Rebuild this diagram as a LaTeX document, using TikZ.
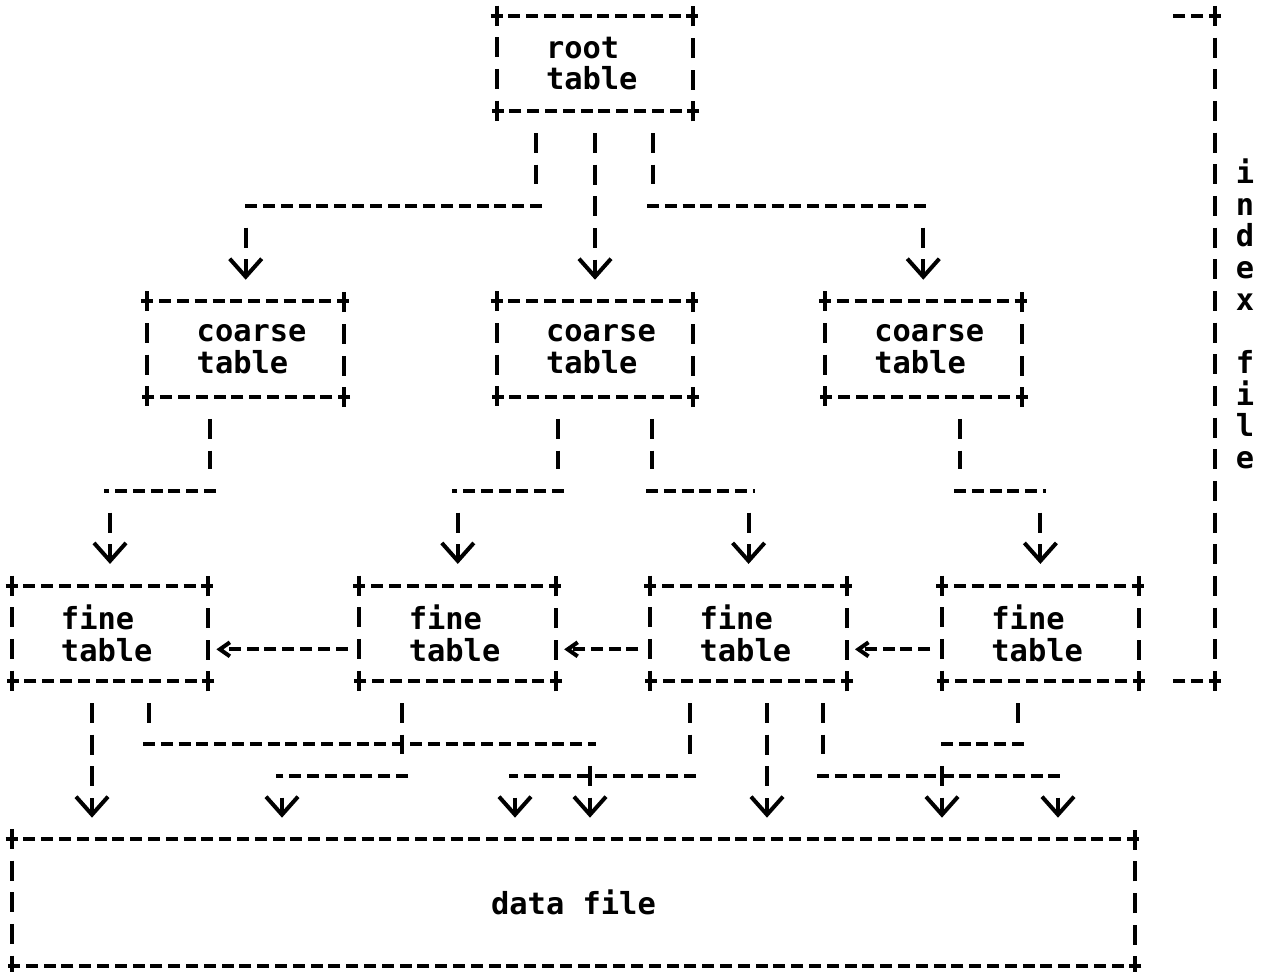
\documentclass[tikz,border=0pt]{standalone}
\usepackage{fontspec}
\setmonofont{DejaVu Sans Mono}
\usetikzlibrary{arrows.meta,positioning}
\hfuzz=20pt
\tikzset{
  txt/.style={font=\ttfamily\bfseries\fontsize{15.2}{15.83}\selectfont},
  tbl/.style={txt,minimum width=98pt,minimum height=47.5pt,inner xsep=24.5pt,
    inner ysep=0pt,text width=49pt,align=left},
  datafile/.style={txt,minimum width=561.5pt,minimum height=63.33pt,inner sep=0pt},
  hl/.style={line width=2pt,dash pattern=on 6pt off 2.9pt,
    shorten <=-3pt,shorten >=-3pt},
  vside/.style={line width=2pt,dash pattern=on 10pt off 5.83pt,
    shorten <=-5pt,shorten >=-5pt},
  vl/.style={line width=2pt,dash pattern=on 10pt off 5.83pt,
    shorten <=10.83pt,shorten >=10.83pt},
  ptr/.style={vl,-{Straight Barb[length=9pt,width=16pt]}},
  sib/.style={line width=2pt,dash pattern=on 6pt off 2.9pt,
    shorten <=5.9pt,shorten >=4pt,-{Straight Barb[length=5pt,width=7pt]}}
}

\begin{document}
\begin{tikzpicture}[x=0.5pt,y=-0.5pt]
  \useasboundingbox[fill=white] (0,0) rectangle (1264,972);

  % tables
  \node [tbl] (root) at (595,63.5) {root\\table};
  \node [tbl,below=95pt of root] (c2) {coarse\\table};
  \node [tbl,left=76.25pt of c2] (c1) {coarse\\table};
  \node [tbl,right=65.75pt of c2] (c3) {coarse\\table};
  \node [tbl] (f1) at (110,633.5) {fine\\table};
  \node [tbl,right=75.5pt of f1] (f2) {fine\\table};
  \node [tbl,right=47pt of f2] (f3) {fine\\table};
  \node [tbl,right=47.5pt of f3] (f4) {fine\\table};
  \node [datafile] (data) at (573.5,902.67) {data file};
  \node [txt,align=center,inner sep=0pt] (idx) at (1245,314)
    {i\\n\\d\\e\\x\\~\\f\\i\\l\\e};

  \foreach \b in {root,c1,c2,c3,f1,f2,f3,f4,data}
    \path (\b.north west) edge[hl] (\b.north east) edge[vside] (\b.south west)
          (\b.south east) edge[hl] (\b.south west) edge[vside] (\b.north east);

  % index file bracket
  \coordinate (ixT) at (1215,16);
  \coordinate (ixB) at (1215,681);
  \coordinate (ixTL) at (1177,16);
  \coordinate (ixBL) at (1177,681);
  \path (ixT) edge[vside] (ixB) edge[hl] (ixTL)
        (ixB) edge[hl] (ixBL);

  % root -> coarse
  \coordinate (rL) at (536,206);
  \coordinate (rR) at (653,206);
  \path (root.south -| rL) edge[vl] (rL)
        (rL) edge[hl] (rL -| c1)
        (rL -| c1) edge[ptr] (c1)
        (root) edge[ptr] (c2)
        (root.south -| rR) edge[vl] (rR)
        (rR) edge[hl] (rR -| c3)
        (rR -| c3) edge[ptr] (c3);

  % coarse -> fine
  \coordinate (cA) at (210,491);
  \coordinate (cB) at (558,491);
  \coordinate (cC) at (652,491);
  \coordinate (cD) at (960,491);
  \path (c1.south -| cA) edge[vl] (cA) (cA) edge[hl] (cA -| f1) (cA -| f1) edge[ptr] (f1)
        (c2.south -| cB) edge[vl] (cB) (cB) edge[hl] (cB -| f2) (cB -| f2) edge[ptr] (f2)
        (c2.south -| cC) edge[vl] (cC) (cC) edge[hl] (cC -| f3) (cC -| f3) edge[ptr] (f3)
        (c3.south -| cD) edge[vl] (cD) (cD) edge[hl] (cD -| f4) (cD -| f4) edge[ptr] (f4);

  % fine <- fine
  \coordinate (lnk) at (0,649.33);
  \path (f2.west |- lnk) edge[sib] (f1.east |- lnk)
        (f3.west |- lnk) edge[sib] (f2.east |- lnk)
        (f4.west |- lnk) edge[sib] (f3.east |- lnk);

  % fine -> data
  \coordinate (tA) at (149,744.33);
  \coordinate (tB) at (402,776);
  \coordinate (tC) at (690,776);
  \coordinate (tD) at (823,776);
  \coordinate (tE) at (1018,744.33);
  \coordinate (dA) at (92,839.33);
  \coordinate (dB) at (590,839.33);
  \coordinate (dC) at (282,839.33);
  \coordinate (dD) at (515,839.33);
  \coordinate (dE) at (767,839.33);
  \coordinate (dF) at (1058,839.33);
  \coordinate (dG) at (942,839.33);
  \path (f1.south -| dA) edge[ptr] (dA)
        (f1.south -| tA) edge[vl] (tA) (tA) edge[hl] (tA -| dB) (tA -| dB) edge[ptr] (dB)
        (f2.south -| tB) edge[vl] (tB) (tB) edge[hl] (tB -| dC) (tB -| dC) edge[ptr] (dC)
        (f3.south -| tC) edge[vl] (tC) (tC) edge[hl] (tC -| dD) (tC -| dD) edge[ptr] (dD)
        (f3.south -| dE) edge[ptr] (dE)
        (f3.south -| tD) edge[vl] (tD) (tD) edge[hl] (tD -| dF) (tD -| dF) edge[ptr] (dF)
        (f4.south -| tE) edge[vl] (tE) (tE) edge[hl] (tE -| dG) (tE -| dG) edge[ptr] (dG);
\end{tikzpicture}
\end{document}
